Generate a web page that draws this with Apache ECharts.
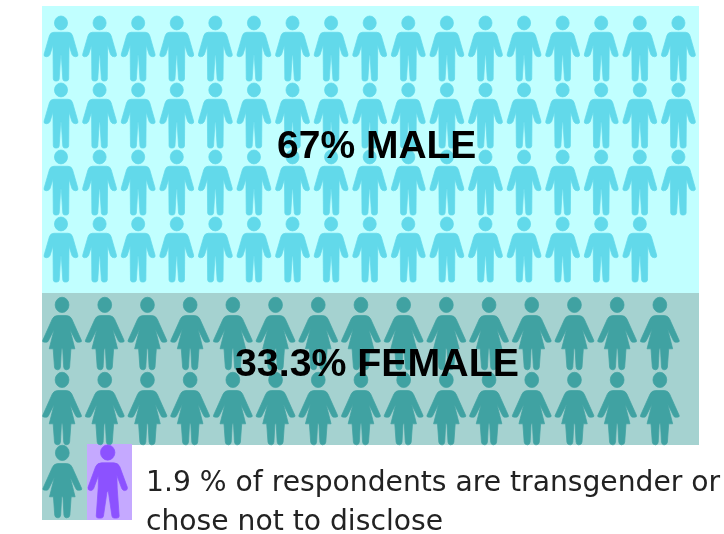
<!DOCTYPE html>
<html><head><meta charset="utf-8">
<style>html,body{margin:0;padding:0;background:#fff}#c{width:724px;height:534px}</style>
<script src="https://cdn.jsdelivr.net/npm/echarts@6/dist/echarts.min.js"></script>
</head><body><div id="c"></div>
<script>
const maleRowCounts = [17, 17, 17, 16];
const femaleRowCounts = [15, 15];
const maleLabel = '67% MALE';
const femaleLabel = '33.3% FEMALE';
const noteLines = ['1.9 % of respondents are transgender or', 'chose not to disclose'];
const circle = (cx, cy, rx, ry) => `M${cx-rx} ${cy}A${rx} ${ry} 0 1 1 ${cx+rx} ${cy}A${rx} ${ry} 0 1 1 ${cx-rx} ${cy}Z`;
const malePath = 'path://' + circle(51.5,21,20,21) +
 'M30 49H73Q84 49 87 60L103 115Q105 122 97 123Q88 123 85 116L76 88L75 190Q74 196 68 196H63Q58 196 57 190L52.5 118H50.5L46 190Q45 196 39 196H34Q29 196 28 190L27 88L18 116Q15 123 6 123Q-2 122 0 115L16 60Q19 49 30 49Z';
const femalePath = 'path://' + circle(59,23,21,23) +
 'M46 55H72Q84 55 89 66L118 130Q120 135 112 135H106Q102 135 100 130L83 96L98 155H86L82 210Q81 218 73 218H71Q65 218 64 210L61 155H57L54 210Q53 218 47 218H45Q37 218 36 210L32 155H20L35 96L18 130Q16 135 12 135H6Q-2 135 0 130L29 66Q34 55 46 55Z';
const otherPath = 'path://' + circle(60,23,22,23) +
 'M42 54H78Q92 54 97 66L120 128Q122 137 112 138Q106 138 103 132L88 92L89 130L95 215Q95 221 88 221H80Q74 221 73 215L62 141H58L47 215Q46 221 40 221H32Q25 221 25 215L31 130L32 92L17 132Q14 138 8 138Q-2 137 0 128L23 66Q28 54 42 54Z';

const idx = n => Array.from({length:n},(_,i)=>i);
const points = counts => counts.flatMap((n,r)=>idx(n).map(c=>[c,r]));
const cols = counts => idx(Math.max(...counts));
const hiddenAxis = (data, gridIndex, inverse) => ({type:'category', data, gridIndex, inverse, show:false, boundaryGap:true});
const panel = (x,y,w,h,fill) => ({type:'rect', z:0, silent:true, shape:{x,y,width:w,height:h}, style:{fill}});
const txt = (text,left,top,fontSize,fontWeight,fontFamily,color) => ({text,left,top,padding:0,textStyle:{fontSize,fontWeight,fontFamily,color}});
const figure = (color) => ({color, opacity:1, borderColor:color, borderWidth:0.7});

const chart = echarts.init(document.getElementById('c'), null, {renderer:'canvas'});
chart.setOption({
  animation:false,
  backgroundColor:'#ffffff',
  grid:[
    {left:41.7, top:15, width:656, height:268},
    {left:40.7, top:296, width:640.5, height:150},
    {left:39.6, top:445, width:90.8, height:73}
  ],
  xAxis:[hiddenAxis(cols(maleRowCounts),0), hiddenAxis(cols(femaleRowCounts),1), hiddenAxis([0,1],2)],
  yAxis:[hiddenAxis(idx(maleRowCounts.length),0,true), hiddenAxis(idx(femaleRowCounts.length),1,true), hiddenAxis([0],2,true)],
  graphic:{elements:[
    panel(42,6,657,287,'#c1ffff'),
    panel(42,293,657,152,'#a5d2d0'),
    panel(42,444.5,45,75.5,'#a5d2d0'),
    panel(87,444,45,76,'#c5a9ff')
  ]},
  title:[
    txt(maleLabel,277,128,39,'bold','Liberation Sans','#000'),
    txt(femaleLabel,235,346,39.3,'bold','Liberation Sans','#000'),
    txt(noteLines[0],146,470,28.2,'normal','DejaVu Sans','#222'),
    txt(noteLines[1],146,509,28.2,'normal','DejaVu Sans','#222')
  ],
  series:[
    {type:'scatter', xAxisIndex:0, yAxisIndex:0, data:points(maleRowCounts), symbol:malePath, symbolSize:[34,65], itemStyle:figure('#62d9ea'), silent:true},
    {type:'scatter', xAxisIndex:1, yAxisIndex:1, data:points(femaleRowCounts), symbol:femalePath, symbolSize:[39,72.5], itemStyle:figure('#40a2a2'), silent:true},
    {type:'scatter', xAxisIndex:2, yAxisIndex:2, data:[[0,0]], symbol:femalePath, symbolSize:[39,72.5], itemStyle:figure('#40a2a2'), silent:true},
    {type:'scatter', xAxisIndex:2, yAxisIndex:2, data:[[1,0]], symbol:otherPath, symbolSize:[39.5,73.2], itemStyle:figure('#8c52ff'), silent:true}
  ]
});
</script></body></html>
